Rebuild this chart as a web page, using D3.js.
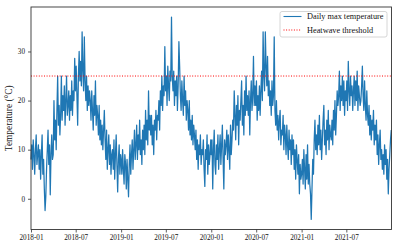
<!DOCTYPE html>
<html>
<head>
<meta charset="utf-8">
<script src="https://cdn.jsdelivr.net/npm/d3@7"></script>
<style>
body { margin: 0; background: #fff; }
text { font-family: "Liberation Serif", "DejaVu Serif", serif; }
</style>
</head>
<body>
<svg id="chart" width="399" height="249"></svg>
<script>
// daily max temperature, every 3rd day from 1 Jan of each year
var temps2018 = [8, 11, 6, 12, 9, 5, 10, 13, 7, 9, 11,
  6, 10, 4, 9, 13, 5, 8, 2, -2.4,
  0.5, 6, 10, 14, 7, 11, 0.8, 9, 13, 8,
  9, 20, 12, 16, 10, 18, 25, 15, 19, 13,
  17, 25, 16, 21, 18, 23, 15, 20, 25, 17,
  19, 22, 16, 21, 18, 24, 17, 22, 20, 28.6,
  22, 27, 21, 15, 25, 30, 24, 28, 23, 34,
  26, 22, 33, 24, 20, 25, 18, 23, 19, 22,
  20, 16, 22, 18, 14, 21, 17, 24, 15, 19,
  17, 13, 19, 12, 16, 11, 15, 10, 14, 18,
  12, 8, 14, 6, 10, 13, 7, 11, 5, 9,
  10, 6, 12, 4, 9, 13, 7, 1.4, 8, 11, 5, 9]
var temps2019 = [8, 5, 10, 6, 3, 9, 7, 2, 8, 4, 0.4,
  7, 11, 5, 9, 12, 6, 10, 14, 8,
  11, 15, 8, 13, 10, 16, 9, 12, 7, 14,
  10, 15, 9, 18, 12, 16, 11, 22, 14, 17,
  13, 17, 11, 15, 9, 16, 14, 18, 12, 17,
  16, 20, 14, 22, 19, 25, 18, 23, 21, 31,
  22, 25, 19, 27, 23, 20, 26, 24, 37, 25,
  22, 26, 19, 24, 21, 25, 18, 23, 32, 27,
  21, 18, 24, 20, 17, 25, 19, 22, 16, 20,
  18, 14, 20, 13, 16, 12, 17, 11, 15, 13,
  10, 14, 8, 12, 6, 11, 9, 13, 7, 10,
  9, 12, 6, 2.5, 10, 8, 13, 5, 11, 7, 9, 12]
var temps2020 = [9, 12, 2, 10, 14, 7, 5, 11, 8, 13, 6,
  10, 13, 7, 11, 15, 8, 2, 12, 9,
  11, 14, 8, 13, 10, 6, 15, 9, 12, 16,
  14, 22, 17, 12, 19, 15, 21, 11, 18, 16,
  20, 24, 15, 19, 13, 22, 17, 25, 18, 21,
  17, 22, 13, 20, 24, 18, 21, 29, 19, 23,
  19, 24, 16, 21, 18, 23, 17, 22, 26, 20,
  34, 25, 22, 34, 27, 23, 29, 21, 24, 19,
  22, 17, 24, 19, 21, 33, 18, 15, 20, 14,
  17, 12, 16, 18, 11, 14, 13, 17, 10, 15,
  13, 9, 15, 11, 8, 14, 10, 12, 7, 13,
  9, 12, 6, 10, 4, 11, 8, 5, 9, 1, 7, 4]
var temps2021 = [5, 8, 3, 10, 6, 2, 9, 4, 11, 3, 7,
  3, 1, -4.2, 2, 8, 5, 12, 16, 10,
  13, 9, 15, 11, 17, 10, 14, 8, 12, 16,
  19, 11, 14, 9, 16, 12, 18, 10, 15, 13,
  12, 16, 11, 18, 14, 20, 13, 17, 22, 19,
  21, 26, 18, 23, 20, 25, 19, 24, 17, 22,
  20, 24, 18, 28, 22, 19, 25, 21, 23, 18,
  22, 25, 19, 24, 20, 26, 18, 23, 21, 19,
  20, 23, 27, 21, 18, 24, 19, 16, 22, 17,
  15, 19, 13, 17, 12, 16, 14, 18, 11, 15,
  12, 16, 9, 13, 7, 11, 14, 8, 10, 6,
  9, 5, 11, 7, 10, 4, 8, 1, 6, 9, 12, 14]
var years = [2018, 2019, 2020, 2021]
var stepDays = 3
var threshold = 25
var xTickLabels = ["2018-01", "2018-07", "2019-01", "2019-07", "2020-01", "2020-07", "2021-01", "2021-07"]
var yTicks = [0, 10, 20, 30]
var legendLabels = ["Daily max temperature", "Heatwave threshold"]

var data = []
;[temps2018, temps2019, temps2020, temps2021].forEach(function(arr, k) {
  arr.forEach(function(v, i) {
    data.push({date: d3.timeDay.offset(new Date(years[k], 0, 1), i * stepDays), value: v})
  })
})

var m = {left: 31, right: 391.5, top: 7, bottom: 229.5}
var svg = d3.select("#chart")

var x = d3.scaleTime().domain([new Date(2018, 0, 1), new Date(2021, 11, 31)]).range([m.left, m.right])
var ext = d3.extent(data, function(d) { return d.value })
var pad = (ext[1] - ext[0]) * 0.05
var y = d3.scaleLinear().domain([ext[0] - pad, ext[1] + pad]).range([m.bottom, m.top])

var parseMonth = d3.timeParse("%Y-%m")

svg.append("path").datum(data)
  .attr("fill", "none").attr("stroke", "#1f77b4").attr("stroke-width", 1.25)
  .attr("stroke-linejoin", "round")
  .attr("d", d3.line().x(function(d) { return x(d.date) }).y(function(d) { return y(d.value) }))

svg.append("line")
  .attr("x1", m.left).attr("x2", m.right).attr("y1", y(threshold)).attr("y2", y(threshold))
  .attr("stroke", "red").attr("stroke-width", 1).attr("stroke-dasharray", "1,1.6")

var xAxis = svg.append("g").attr("transform", "translate(0," + m.bottom + ")")
  .call(d3.axisBottom(x).tickValues(xTickLabels.map(parseMonth)).tickFormat(d3.timeFormat("%Y-%m")).tickSize(3).tickPadding(2))
var yAxis = svg.append("g").attr("transform", "translate(" + m.left + ",0)")
  .call(d3.axisLeft(y).tickValues(yTicks).tickSize(3).tickPadding(3))
;[xAxis, yAxis].forEach(function(g) {
  g.select(".domain").remove()
  g.selectAll("line").attr("stroke", "#333").attr("stroke-width", 0.8)
  g.selectAll("text").attr("font-size", 7.2).attr("fill", "#111")
    .style("font-family", "'Liberation Serif', serif")
})

svg.append("rect").attr("x", m.left).attr("y", m.top).attr("width", m.right - m.left).attr("height", m.bottom - m.top)
  .attr("fill", "none").attr("stroke", "#333").attr("stroke-width", 0.9)

svg.append("text")
  .attr("transform", "translate(12," + ((m.top + m.bottom) / 2) + ") rotate(-90)")
  .attr("text-anchor", "middle").attr("font-size", 9.4).attr("fill", "#111")
  .text("Temperature (\u00b0C)")

// legend
var lg = svg.append("g")
lg.append("rect").attr("x", 280).attr("y", 11.5).attr("width", 107).attr("height", 25.5).attr("rx", 2)
  .attr("fill", "#fff").attr("fill-opacity", 0.8).attr("stroke", "#ccc").attr("stroke-width", 0.8)
legendLabels.forEach(function(t, i) {
  var ly = 16.5 + i * 13.5
  lg.append("line").attr("x1", 283.5).attr("x2", 301.5).attr("y1", ly).attr("y2", ly)
    .attr("stroke", i == 0 ? "#1f77b4" : "red").attr("stroke-width", i == 0 ? 1.1 : 1)
    .attr("stroke-dasharray", i == 0 ? null : "1,1.6")
  lg.append("text").attr("x", 307).attr("y", ly).attr("dy", "0.35em")
    .attr("font-size", 8.3).attr("fill", "#111").text(t)
})
</script>
</body>
</html>
